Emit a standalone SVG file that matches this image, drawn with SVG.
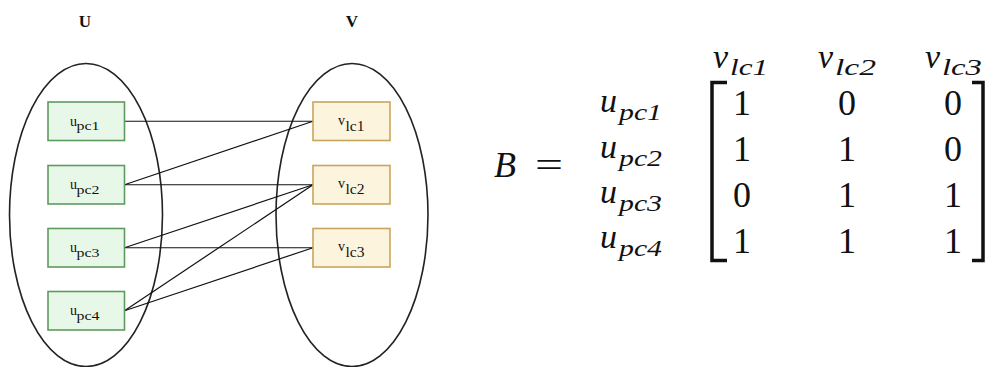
<svg xmlns="http://www.w3.org/2000/svg" width="988" height="367" viewBox="0 0 988 367" font-family="'Liberation Serif', 'Times New Roman', serif">
<style>
.set{fill:none;stroke:#222;stroke-width:1.6}
.pc{fill:#e8f8e8;stroke:#5f9a5f;stroke-width:1.6}
.lc{fill:#fdf4de;stroke:#c8a55c;stroke-width:1.6}
.edge{stroke:#111;stroke-width:1.2;fill:none}
.br{fill:none;stroke:#111;stroke-width:3.5}
</style>
<rect width="988" height="367" fill="#fff"/>
<g id="set-U">
<ellipse class="set" cx="86" cy="215" rx="76.5" ry="151.5"/>
<text x="85" y="27" font-family="Liberation Serif" font-weight="bold" font-size="17" text-anchor="middle" fill="#111">U</text>
</g>
<g id="set-V">
<ellipse class="set" cx="352" cy="215" rx="76" ry="151.5"/>
<text x="352" y="27" font-family="Liberation Serif" font-weight="bold" font-size="17" text-anchor="middle" fill="#111">V</text>
</g>
<g id="connectors">
<line class="edge" x1="124.5" y1="121.25" x2="313" y2="121.25"/>
<line class="edge" x1="124.5" y1="184.75" x2="313" y2="121.25"/>
<line class="edge" x1="124.5" y1="184.75" x2="313" y2="184.75"/>
<line class="edge" x1="124.5" y1="247.75" x2="313" y2="184.75"/>
<line class="edge" x1="124.5" y1="247.75" x2="313" y2="247.75"/>
<line class="edge" x1="124.5" y1="310.75" x2="313" y2="184.75"/>
<line class="edge" x1="124.5" y1="310.75" x2="313" y2="247.75"/>
</g>
<g id="upc1" font-family="Liberation Serif" fill="#111">
<rect class="pc" x="48" y="102" width="76.5" height="38.5"/>
<text><tspan x="70" y="125.5" font-size="14">u</tspan><tspan x="76.5" y="130" font-size="13" textLength="23" lengthAdjust="spacingAndGlyphs">pc1</tspan></text>
</g>
<g id="upc2" font-family="Liberation Serif" fill="#111">
<rect class="pc" x="48" y="165.5" width="76.5" height="38.5"/>
<text><tspan x="70" y="189" font-size="14">u</tspan><tspan x="76.5" y="193.5" font-size="13" textLength="23" lengthAdjust="spacingAndGlyphs">pc2</tspan></text>
</g>
<g id="upc3" font-family="Liberation Serif" fill="#111">
<rect class="pc" x="48" y="228.5" width="76.5" height="38.5"/>
<text><tspan x="70" y="252" font-size="14">u</tspan><tspan x="76.5" y="256.5" font-size="13" textLength="23" lengthAdjust="spacingAndGlyphs">pc3</tspan></text>
</g>
<g id="upc4" font-family="Liberation Serif" fill="#111">
<rect class="pc" x="48" y="291.5" width="76.5" height="38.5"/>
<text><tspan x="70" y="315" font-size="14">u</tspan><tspan x="76.5" y="319.5" font-size="13" textLength="23" lengthAdjust="spacingAndGlyphs">pc4</tspan></text>
</g>
<g id="vlc1" font-family="Liberation Serif" fill="#111">
<rect class="lc" x="313" y="102" width="77" height="38.5"/>
<text><tspan x="338" y="124.5" font-size="14">v</tspan><tspan x="345.5" y="130.5" font-size="14" textLength="19" lengthAdjust="spacingAndGlyphs">lc1</tspan></text>
</g>
<g id="vlc2" font-family="Liberation Serif" fill="#111">
<rect class="lc" x="313" y="165.5" width="77" height="38.5"/>
<text><tspan x="338" y="188" font-size="14">v</tspan><tspan x="345.5" y="194" font-size="14" textLength="19" lengthAdjust="spacingAndGlyphs">lc2</tspan></text>
</g>
<g id="vlc3" font-family="Liberation Serif" fill="#111">
<rect class="lc" x="313" y="228.5" width="77" height="38.5"/>
<text><tspan x="338" y="251" font-size="14">v</tspan><tspan x="345.5" y="257" font-size="14" textLength="19" lengthAdjust="spacingAndGlyphs">lc3</tspan></text>
</g>
<g id="matrix" font-family="Liberation Serif" fill="#111">
<text x="494" y="177" font-size="36" font-style="italic">B</text>
<text x="535" y="177" font-size="36" textLength="28" lengthAdjust="spacingAndGlyphs">=</text>
<g font-style="italic">
<text><tspan x="713" y="68" font-size="34">v</tspan><tspan x="730" y="75" font-size="24" textLength="38" lengthAdjust="spacingAndGlyphs">lc1</tspan></text>
<text><tspan x="818" y="68" font-size="34">v</tspan><tspan x="835" y="75" font-size="24" textLength="41" lengthAdjust="spacingAndGlyphs">lc2</tspan></text>
<text><tspan x="925" y="68" font-size="34">v</tspan><tspan x="942" y="75" font-size="24" textLength="40" lengthAdjust="spacingAndGlyphs">lc3</tspan></text>
<text><tspan x="600" y="112" font-size="34">u</tspan><tspan x="619" y="120" font-size="24" textLength="43" lengthAdjust="spacingAndGlyphs">pc1</tspan></text>
<text><tspan x="600" y="158" font-size="34">u</tspan><tspan x="619" y="166" font-size="24" textLength="43" lengthAdjust="spacingAndGlyphs">pc2</tspan></text>
<text><tspan x="600" y="203" font-size="34">u</tspan><tspan x="619" y="211" font-size="24" textLength="43" lengthAdjust="spacingAndGlyphs">pc3</tspan></text>
<text><tspan x="600" y="248" font-size="34">u</tspan><tspan x="619" y="256" font-size="24" textLength="43" lengthAdjust="spacingAndGlyphs">pc4</tspan></text>
</g>
<path class="br" d="M727,82.5 H712 V260.5 H727"/>
<path class="br" d="M972,82.5 H983 V260.5 H972"/>
<g font-size="36" text-anchor="middle">
<text x="742" y="115">1</text><text x="847" y="115">0</text><text x="953" y="115">0</text>
<text x="742" y="161">1</text><text x="847" y="161">1</text><text x="953" y="161">0</text>
<text x="742" y="207">0</text><text x="847" y="207">1</text><text x="953" y="207">1</text>
<text x="742" y="253">1</text><text x="847" y="253">1</text><text x="953" y="253">1</text>
</g>
</g>
</svg>
